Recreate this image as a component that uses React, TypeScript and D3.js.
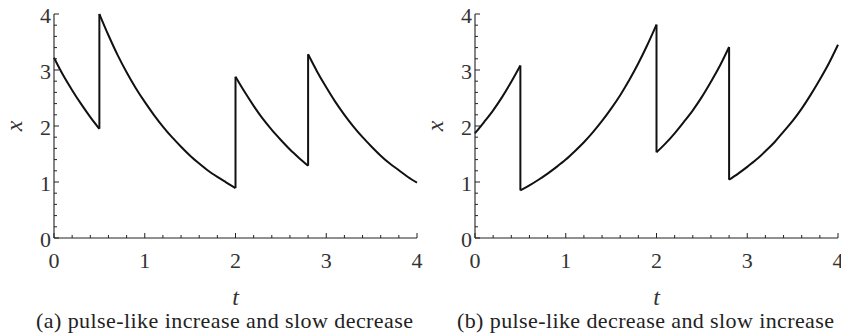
import React from 'react';
import * as d3 from 'd3';

// values, step 0.1 in t
const jumpTimes = [0, 0.5, 2, 2.8, 4];

const increaseSegments = [
  [3.22, 2.91, 2.64, 2.39, 2.16, 1.95],
  [4.0, 3.62, 3.27, 2.96, 2.68, 2.43, 2.2, 1.99, 1.8, 1.63, 1.47, 1.33, 1.2, 1.09, 0.99, 0.89],
  [2.88, 2.61, 2.36, 2.13, 1.93, 1.75, 1.58, 1.43, 1.29],
  [3.28, 2.97, 2.69, 2.43, 2.2, 1.99, 1.8, 1.63, 1.47, 1.33, 1.21, 1.09, 0.99],
];

const decreaseSegments = [
  [1.87, 2.07, 2.28, 2.52, 2.79, 3.08],
  [0.85, 0.94, 1.04, 1.15, 1.27, 1.4, 1.55, 1.71, 1.89, 2.09, 2.31, 2.55, 2.82, 3.12, 3.45, 3.81],
  [1.53, 1.69, 1.87, 2.07, 2.28, 2.52, 2.79, 3.08, 3.41],
  [1.04, 1.15, 1.27, 1.4, 1.55, 1.71, 1.9, 2.09, 2.31, 2.56, 2.83, 3.12, 3.45],
];

const tTicks = [0, 1, 2, 3, 4];
const xTicks = [0, 1, 2, 3, 4];
const captions = [
  '(a) pulse-like increase and slow decrease',
  '(b) pulse-like decrease and slow increase',
];

interface PanelProps {
  left: number;
  segments: number[][];
  caption: string;
}

const Panel: React.FC<PanelProps> = ({ left, segments, caption }) => {
  const tScale = d3.scaleLinear().domain([0, 4]).range([left, left + 363]);
  const xScale = d3.scaleLinear().domain([0, 4]).range([238, 14]);
  const minor = d3.range(0, 4.0001, 0.2);

  const line = d3.line<[number, number]>()
    .x(d => tScale(d[0]))
    .y(d => xScale(d[1]))
    .curve(d3.curveMonotoneX);

  const pts = segments.map((seg, i) =>
    seg.map((v, j) => [jumpTimes[i] + j * 0.1, v] as [number, number]));

  const x0 = tScale(0);
  const y0 = xScale(0);

  return (
    <g>
      {pts.map((p, i) => (
        <path key={'s' + i} d={line(p) || ''} fill="none" stroke="#111" strokeWidth={2} />
      ))}
      {pts.slice(1).map((p, i) => {
        const prev = pts[i][pts[i].length - 1];
        return (
          <line key={'j' + i} x1={tScale(p[0][0])} x2={tScale(p[0][0])}
            y1={xScale(prev[1])} y2={xScale(p[0][1])} stroke="#111" strokeWidth={2} />
        );
      })}
      <line x1={x0} x2={x0} y1={y0} y2={xScale(4)} stroke="#222" strokeWidth={1.1} />
      <line x1={x0} x2={tScale(4)} y1={y0} y2={y0} stroke="#222" strokeWidth={1.1} />
      {minor.map((v, i) => {
        const major = Math.abs(v - Math.round(v)) < 1e-6;
        const len = major ? 5 : 3;
        return (
          <g key={'m' + i}>
            <line x1={tScale(v)} x2={tScale(v)} y1={y0} y2={y0 - len} stroke="#222" strokeWidth={1} />
            <line x1={x0} x2={x0 + len} y1={xScale(v)} y2={xScale(v)} stroke="#222" strokeWidth={1} />
          </g>
        );
      })}
      <g fontFamily="Liberation Serif" fill="#333">
        {tTicks.map(v => (
          <text key={'t' + v} x={tScale(v)} y={268} textAnchor="middle" fontSize={22}>{v}</text>
        ))}
        {xTicks.map(v => (
          <text key={'x' + v} x={x0 - 3} y={xScale(v) + 8.5} textAnchor="end" fontSize={22}>{v}</text>
        ))}
        <text x={tScale(2)} y={305} textAnchor="middle" fontStyle="italic" fontSize={24}>t</text>
        <text transform={`translate(${left - 32},${xScale(2)}) rotate(-90)`} textAnchor="middle"
          fontStyle="italic" fontSize={24}>x</text>
        <text x={left + 170.5} y={328} textAnchor="middle" fontSize={22}
          textLength={377} lengthAdjust="spacing" fill="#222">{caption}</text>
      </g>
    </g>
  );
};

const App: React.FC = () => (
  <svg width={841} height={336} style={{ position: 'absolute', left: 0, top: 0, background: '#fff' }}>
    <Panel left={54} segments={increaseSegments} caption={captions[0]} />
    <Panel left={475} segments={decreaseSegments} caption={captions[1]} />
  </svg>
);

export default App;
